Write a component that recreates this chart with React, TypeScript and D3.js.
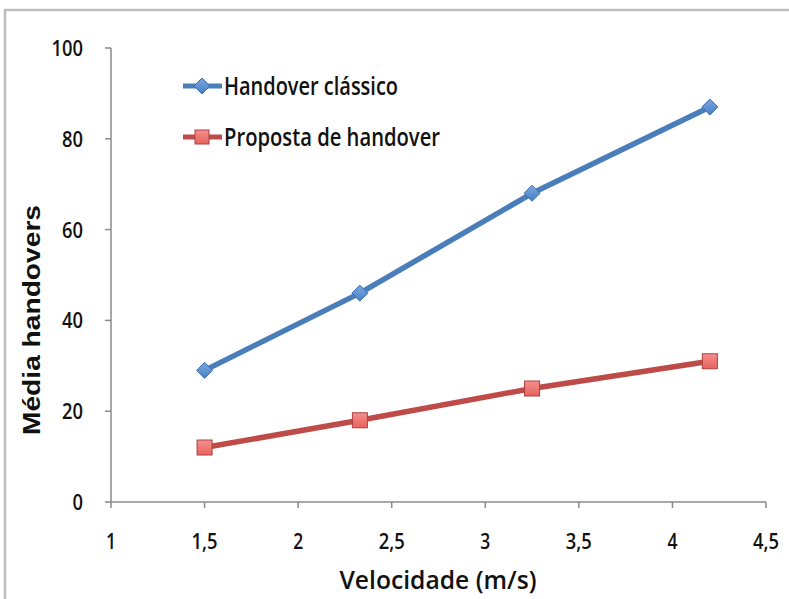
import React from "react";
import * as d3 from "d3";

const velocities = [1.5, 2.33, 3.25, 4.2];
const classicHandover = [29, 46, 68, 87];
const proposedHandover = [12, 18, 25, 31];
const xTicks = [1, 1.5, 2, 2.5, 3, 3.5, 4, 4.5];
const yTicks = [0, 20, 40, 60, 80, 100];
const seriesNames = ["Handover clássico", "Proposta de handover"];

const W = 789;
const H = 599;
const M = { left: 111, right: 23, top: 48, bottom: 97 };

const fmt = (v: number) => String(v).replace(".", ",");

export default function App() {
  const x = d3.scaleLinear().domain([1, 4.5]).range([M.left, W - M.right]);
  const y = d3.scaleLinear().domain([0, 100]).range([H - M.bottom, M.top]);
  const line = d3
    .line<[number, number]>()
    .x((d) => x(d[0]))
    .y((d) => y(d[1]));
  const blue = velocities.map((v, i) => [v, classicHandover[i]] as [number, number]);
  const red = velocities.map((v, i) => [v, proposedHandover[i]] as [number, number]);
  const font = "'Open Sans', 'DejaVu Sans', sans-serif";
  const diamond = (cx: number, cy: number, r: number) =>
    `M${cx},${cy - r}L${cx + r},${cy}L${cx},${cy + r}L${cx - r},${cy}Z`;

  return (
    <svg width={W} height={H} style={{ position: "absolute", left: 0, top: 0, background: "#fff" }}>
      <defs>
        <linearGradient id="redGrad" x1="0" y1="0" x2="0" y2="1">
          <stop offset="0" stopColor="#F58F8B" />
          <stop offset="1" stopColor="#E8635F" />
        </linearGradient>
        <linearGradient id="blueGrad" x1="0" y1="0" x2="0" y2="1">
          <stop offset="0" stopColor="#7BA7DE" />
          <stop offset="1" stopColor="#4A80C8" />
        </linearGradient>
      </defs>
      <rect x={5} y={10} width={W} height={H} fill="#fff" stroke="#bdbdbd" strokeWidth={2.5} />

      {/* axes */}
      <line x1={x(1)} x2={x(4.5)} y1={y(0)} y2={y(0)} stroke="#8a8a8a" strokeWidth={1.5} />
      <line x1={x(1)} x2={x(1)} y1={y(0)} y2={y(100)} stroke="#8a8a8a" strokeWidth={1.5} />
      {yTicks.map((t) => (
        <g key={"y" + t}>
          <line x1={x(1) - 6} x2={x(1)} y1={y(t)} y2={y(t)} stroke="#8a8a8a" strokeWidth={1.5} />
          <text
            x={83}
            y={y(t) + 8}
            textAnchor="end"
            fontFamily={font}
            fontWeight={600}
            fontSize={22}
            fill="#111"
            textLength={String(t).length * 10.5}
            lengthAdjust="spacingAndGlyphs"
          >
            {t}
          </text>
        </g>
      ))}
      {xTicks.map((t) => (
        <g key={"x" + t}>
          <line x1={x(t)} x2={x(t)} y1={y(0)} y2={y(0) + 6} stroke="#8a8a8a" strokeWidth={1.5} />
          <text
            x={x(t)}
            y={549}
            textAnchor="middle"
            fontFamily={font}
            fontWeight={600}
            fontSize={22}
            fill="#111"
            textLength={fmt(t).length === 1 ? 10 : 26}
            lengthAdjust="spacingAndGlyphs"
          >
            {fmt(t)}
          </text>
        </g>
      ))}

      <text
        x={438}
        y={589}
        textAnchor="middle"
        fontFamily={font}
        fontWeight={600}
        fontSize={25}
        fill="#111"
        textLength={197}
        lengthAdjust="spacingAndGlyphs"
      >
        Velocidade (m/s)
      </text>
      <text
        transform={`translate(40,320) rotate(-90)`}
        textAnchor="middle"
        fontFamily="'Liberation Sans', Arial, sans-serif"
        fontWeight={700}
        fontSize={23}
        fill="#111"
        textLength={230}
        lengthAdjust="spacingAndGlyphs"
      >
        Média handovers
      </text>

      {/* series */}
      <path d={line(blue) || ""} fill="none" stroke="#4A7EBB" strokeWidth={5.5} strokeLinejoin="round" />
      <path d={line(red) || ""} fill="none" stroke="#BE4B48" strokeWidth={5.5} strokeLinejoin="round" />
      {blue.map((d, i) => (
        <path key={"b" + i} d={diamond(x(d[0]), y(d[1]), 8)} fill="url(#blueGrad)" stroke="#3C6CAE" strokeWidth={1} />
      ))}
      {red.map((d, i) => (
        <rect
          key={"r" + i}
          x={x(d[0]) - 7.5}
          y={y(d[1]) - 7.5}
          width={15}
          height={15}
          fill="url(#redGrad)"
          stroke="#A94140"
          strokeWidth={1}
        />
      ))}

      {/* legend */}
      {seriesNames.map((name, i) => {
        const ly = 86 + i * 51;
        const color = i === 0 ? "#4A7EBB" : "#BE4B48";
        return (
          <g key={name}>
            <line x1={183} x2={222} y1={ly} y2={ly} stroke={color} strokeWidth={5} />
            {i === 0 ? (
              <path d={diamond(202, ly, 8)} fill="url(#blueGrad)" stroke="#3C6CAE" strokeWidth={1} />
            ) : (
              <rect x={195} y={ly - 7} width={14} height={14} fill="url(#redGrad)" stroke="#A94140" strokeWidth={1} />
            )}
            <text
              x={224}
              y={ly + 9}
              fontFamily={font}
              fontWeight={600}
              fontSize={25}
              fill="#111"
              textLength={i === 0 ? 174 : 216}
              lengthAdjust="spacingAndGlyphs"
            >
              {name}
            </text>
          </g>
        );
      })}
    </svg>
  );
}
